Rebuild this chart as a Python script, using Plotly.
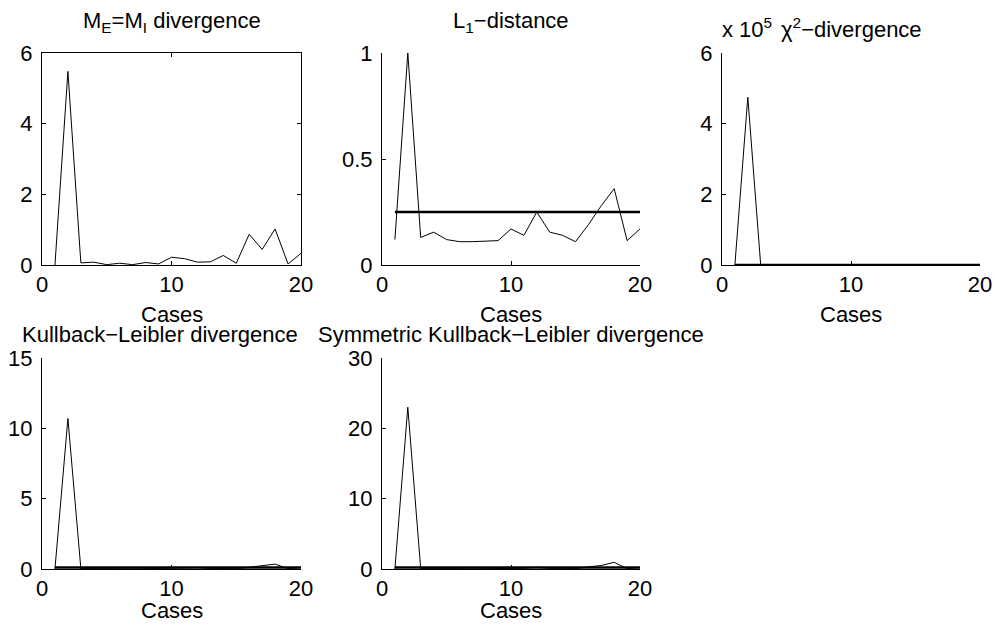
import plotly.graph_objects as go

W, H = 995, 630

cases = list(range(1, 21))

# Data
me_mi_div = [0.0, 5.48, 0.06, 0.08, 0.01, 0.05, 0.01, 0.07, 0.03, 0.22,
             0.18, 0.08, 0.09, 0.27, 0.05, 0.87, 0.44, 1.02, 0.03, 0.33]
l1_dist = [0.12, 1.0, 0.13, 0.155, 0.12, 0.11, 0.11, 0.112, 0.115, 0.17,
           0.14, 0.25, 0.155, 0.14, 0.11, 0.19, 0.28, 0.36, 0.115, 0.17]
l1_threshold = [0.25, 0.25]
chi2_div = [0.0, 4.75e5, 2.1, 1.4, 0.6, 0.8, 0.5, 1.1, 0.7, 3.2,
            2.6, 1.9, 1.5, 2.8, 0.9, 6.5, 4.2, 9.0, 0.8, 3.5]
chi2_threshold = [0.5, 0.5]
kl_div = [0.0, 10.7, 0.03, 0.04, 0.02, 0.02, 0.01, 0.03, 0.02, 0.06,
          0.05, 0.09, 0.04, 0.05, 0.02, 0.12, 0.22, 0.35, 0.02, 0.1]
kl_threshold = [0.1, 0.1]
skl_div = [0.0, 23.0, 0.06, 0.08, 0.04, 0.05, 0.03, 0.06, 0.04, 0.12,
           0.1, 0.25, 0.08, 0.1, 0.05, 0.3, 0.5, 0.95, 0.05, 0.2]
skl_threshold = [0.2, 0.2]
threshold_x = [1, 20]

x_ticks = [0, 10, 20]
titles = ["M<sub>E</sub>=M<sub>I</sub> divergence", "L<sub>1</sub>\u2212distance",
          "\u03c7<sup>2</sup>\u2212divergence",
          "Kullback\u2212Leibler divergence", "Symmetric Kullback\u2212Leibler divergence"]
x_label = "Cases"

FONT = "Liberation Sans, Arial, sans-serif"
FS = 22

def px2x(p):
    return p / W

def px2y(p):
    return 1 - p / H

# axes pixel boxes (left, right, top, bottom)
boxes = [(42, 301, 53, 265), (382, 640, 53, 265), (722, 980, 53, 265),
         (42, 301, 358, 569), (382, 640, 358, 569)]

fig = go.Figure()

series = [me_mi_div, l1_dist, chi2_div, kl_div, skl_div]
thresholds = [None, l1_threshold, chi2_threshold, kl_threshold, skl_threshold]

for i, (s, th) in enumerate(zip(series, thresholds)):
    xa = "x" if i == 0 else f"x{i+1}"
    ya = "y" if i == 0 else f"y{i+1}"
    fig.add_trace(go.Scatter(x=cases, y=s, mode="lines", xaxis=xa, yaxis=ya,
                             line=dict(color="black", width=1), hoverinfo="skip"))
    if th is not None:
        fig.add_trace(go.Scatter(x=threshold_x, y=th, mode="lines", xaxis=xa, yaxis=ya,
                                 line=dict(color="black", width=2.5), hoverinfo="skip"))

y_specs = [
    dict(range=[0, 6], tickvals=[0, 2, 4, 6], ticktext=["0", "2", "4", "6"]),
    dict(range=[0, 1], tickvals=[0, 0.5, 1], ticktext=["0", "0.5", "1"]),
    dict(range=[0, 6e5], tickvals=[0, 2e5, 4e5, 6e5], ticktext=["0", "2", "4", "6"]),
    dict(range=[0, 15], tickvals=[0, 5, 10, 15], ticktext=["0", "5", "10", "15"]),
    dict(range=[0, 30], tickvals=[0, 10, 20, 30], ticktext=["0", "10", "20", "30"]),
]

layout = dict(width=W, height=H, margin=dict(l=0, r=0, t=0, b=0, autoexpand=False),
              template="none",
              paper_bgcolor="white", plot_bgcolor="white", showlegend=False,
              font=dict(family=FONT, size=FS, color="black"))

annotations = []
for i, (l, r, t, b) in enumerate(boxes):
    sx = "" if i == 0 else str(i + 1)
    mirror = "ticks" if i == 0 else False
    layout["xaxis" + sx] = dict(
        domain=[px2x(l), px2x(r)], anchor="y" + sx, range=[0, 20],
        tickvals=x_ticks, ticktext=[str(v) for v in x_ticks],
        ticks="inside", ticklen=4, tickcolor="black", tickwidth=1,
        showline=True, linecolor="black", linewidth=1, mirror=mirror,
        showgrid=False, zeroline=False, fixedrange=True, automargin=False,
        tickfont=dict(family=FONT, size=FS, color="black"))
    ys = y_specs[i]
    layout["yaxis" + sx] = dict(
        domain=[px2y(b), px2y(t)], anchor="x" + sx, range=ys["range"],
        tickvals=ys["tickvals"], ticktext=ys["ticktext"],
        ticks="inside", ticklen=4, tickcolor="black", tickwidth=1,
        showline=True, linecolor="black", linewidth=1, mirror=mirror,
        showgrid=False, zeroline=False, fixedrange=True, automargin=False,
        ticklabelstandoff=4,
        tickfont=dict(family=FONT, size=FS, color="black"))
    cx = (l + r) / 2
    # x-axis label
    cases_y = 314 if i < 3 else 610
    annotations.append(dict(text=x_label, x=px2x(cx), y=px2y(cases_y), xref="paper", yref="paper",
                            xanchor="center", yanchor="middle", showarrow=False,
                            font=dict(family=FONT, size=FS, color="black")))
    # title
    if i < 3:
        ty = 28 if i == 2 else 22
    else:
        ty = 334
    if i == 3:
        cx = 160
    annotations.append(dict(text=titles[i], x=px2x(cx), y=px2y(ty), xref="paper", yref="paper",
                            xanchor="center", yanchor="middle", showarrow=False,
                            font=dict(family=FONT, size=FS, color="black")))

# exponent label for chi-square axis
annotations.append(dict(text="x 10<sup>5</sup>", x=px2x(720), y=px2y(28), xref="paper", yref="paper",
                        xanchor="left", yanchor="middle", showarrow=False,
                        font=dict(family=FONT, size=FS, color="black")))

layout["annotations"] = annotations
fig.update_layout(**layout)

fig.write_html("out.html")
